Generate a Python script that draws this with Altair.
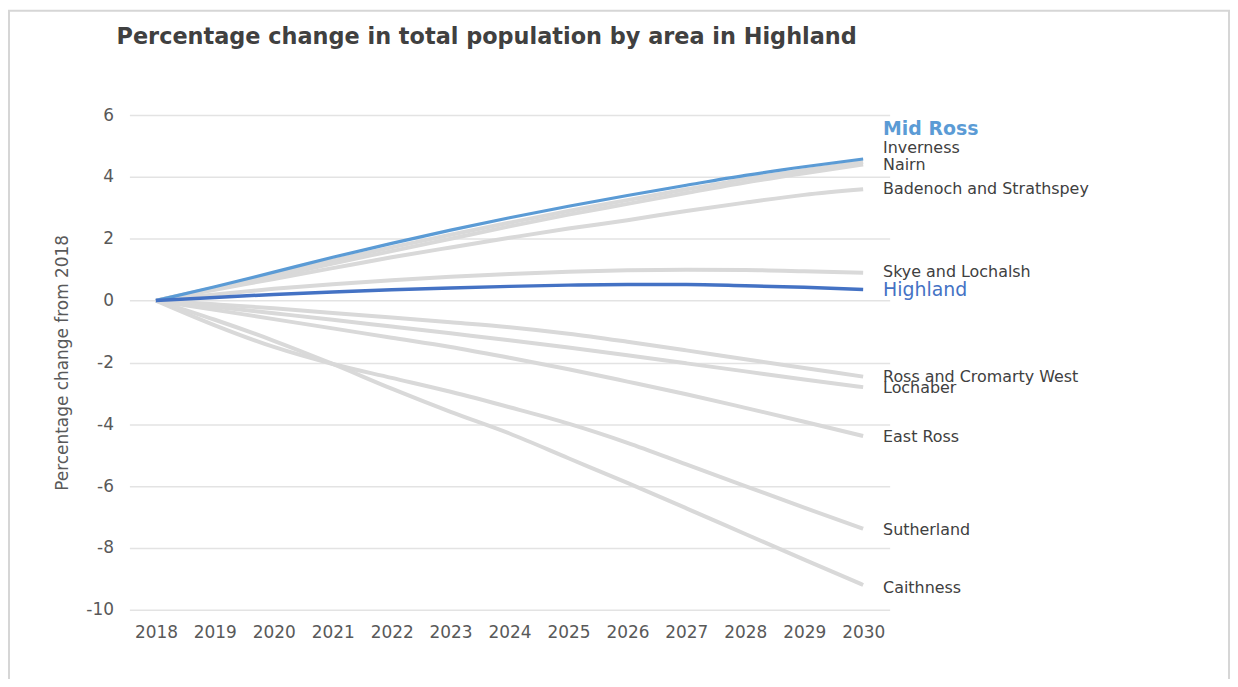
import altair as alt
import pandas as pd

years = list(range(2018, 2031))

mid_ross = [0, 0.45, 0.92, 1.4, 1.85, 2.28, 2.68, 3.05, 3.4, 3.73, 4.05, 4.33, 4.58]
inverness = [0, 0.42, 0.85, 1.3, 1.72, 2.13, 2.52, 2.9, 3.25, 3.6, 3.93, 4.22, 4.48]
nairn = [0, 0.38, 0.78, 1.2, 1.6, 2.0, 2.4, 2.78, 3.13, 3.48, 3.82, 4.12, 4.4]
badenoch = [0, 0.35, 0.7, 1.05, 1.4, 1.72, 2.03, 2.33, 2.6, 2.9, 3.17, 3.42, 3.6]
skye = [0, 0.2, 0.38, 0.53, 0.66, 0.77, 0.86, 0.93, 0.98, 1.0, 0.99, 0.95, 0.9]
highland = [0, 0.1, 0.2, 0.28, 0.35, 0.41, 0.46, 0.5, 0.52, 0.52, 0.48, 0.43, 0.36]
ross_cromarty_west = [0, -0.12, -0.25, -0.4, -0.55, -0.7, -0.86, -1.07, -1.33, -1.61, -1.9, -2.18, -2.46]
lochaber = [0, -0.2, -0.41, -0.62, -0.84, -1.06, -1.28, -1.52, -1.77, -2.03, -2.29, -2.55, -2.8]
east_ross = [0, -0.3, -0.6, -0.9, -1.2, -1.5, -1.85, -2.22, -2.62, -3.03, -3.47, -3.92, -4.38]
sutherland = [0, -0.8, -1.5, -2.05, -2.5, -2.95, -3.45, -3.98, -4.6, -5.3, -6.0, -6.7, -7.38]
caithness = [0, -0.62, -1.3, -2.05, -2.85, -3.6, -4.3, -5.1, -5.9, -6.72, -7.55, -8.38, -9.2]

series = {
    "Mid Ross": mid_ross,
    "Inverness": inverness,
    "Nairn": nairn,
    "Badenoch and Strathspey": badenoch,
    "Skye and Lochalsh": skye,
    "Highland": highland,
    "Ross and Cromarty West": ross_cromarty_west,
    "Lochaber": lochaber,
    "East Ross": east_ross,
    "Sutherland": sutherland,
    "Caithness": caithness,
}

# end-label positions (value units), nudged apart where they overlap
label_areas = ["Mid Ross", "Inverness", "Nairn", "Badenoch and Strathspey",
               "Skye and Lochalsh", "Highland", "Ross and Cromarty West",
               "Lochaber", "East Ross", "Sutherland", "Caithness"]
label_values = [5.56, 4.95, 4.40, 3.62, 0.92, 0.34, -2.46, -2.82, -4.43, -7.43, -9.29]

y_ticks = [-10, -8, -6, -4, -2, 0, 2, 4, 6]

rows = []
for area, vals in series.items():
    for yr, v in zip(years, vals):
        rows.append({"area": area, "year": yr, "value": v})
df = pd.DataFrame(rows)
labels = pd.DataFrame({"area": label_areas, "value": label_values, "year": [years[-1]] * len(label_areas)})

FONT = "DejaVu Sans"
GREY_LINE = "#d9d9d9"
MID_BLUE = "#5b9bd5"
HL_BLUE = "#4472c4"

x_enc = alt.X("year:O", scale=alt.Scale(type="point", padding=0.45),
              axis=alt.Axis(labelAngle=0, title=None, ticks=False, domain=False,
                            labelFont=FONT, labelFontSize=17, labelColor="#595959",
                            labelPadding=15, grid=False))
y_enc = alt.Y("value:Q", scale=alt.Scale(domain=[-10, 6], nice=False),
              axis=alt.Axis(values=y_ticks, title="Percentage change from 2018",
                            labelExpr="'' + datum.value",
                            titleFont=FONT, titleFontSize=17, titleFontWeight="normal",
                            titleColor="#595959", titlePadding=14,
                            labelFont=FONT, labelFontSize=17, labelColor="#595959",
                            labelPadding=16, ticks=False, domain=False,
                            grid=True, gridColor="#e3e3e3", gridWidth=1.5))

base = alt.Chart(df)

grey = base.transform_filter(
    "datum.area != 'Mid Ross' && datum.area != 'Highland'"
).mark_line(color=GREY_LINE, strokeWidth=4, interpolate="monotone").encode(
    x=x_enc, y=y_enc, detail="area:N"
)
mid = base.transform_filter("datum.area == 'Mid Ross'").mark_line(
    color=MID_BLUE, strokeWidth=3.2, interpolate="monotone").encode(x=x_enc, y=y_enc)
hl = base.transform_filter("datum.area == 'Highland'").mark_line(
    color=HL_BLUE, strokeWidth=3.5, interpolate="monotone").encode(x=x_enc, y=y_enc)

lab = alt.Chart(labels)
lab_grey = lab.transform_filter(
    "datum.area != 'Mid Ross' && datum.area != 'Highland'"
).mark_text(align="left", baseline="middle", dx=20, font=FONT, fontSize=16,
            color="#404040").encode(x=x_enc, y=y_enc, text="area:N")
lab_mid = lab.transform_filter("datum.area == 'Mid Ross'").mark_text(
    align="left", baseline="middle", dx=20, font=FONT, fontSize=19, fontWeight="bold",
    color=MID_BLUE).encode(x=x_enc, y=y_enc, text="area:N")
lab_hl = lab.transform_filter("datum.area == 'Highland'").mark_text(
    align="left", baseline="middle", dx=20, font=FONT, fontSize=19,
    color=HL_BLUE).encode(x=x_enc, y=y_enc, text="area:N")

frame = alt.Chart(pd.DataFrame({"k": [0]})).mark_rect(
    fillOpacity=0, stroke="#d6d6d6", strokeWidth=2, clip=False
).encode(x=alt.value(-121), x2=alt.value(1105), y=alt.value(-105), y2=alt.value(600))

chart = alt.layer(frame, grey, mid, hl, lab_grey, lab_mid, lab_hl).properties(
    width=764, height=497,
    autosize=alt.AutoSizeParams(type="none"),
    padding={"left": 122, "top": 106, "right": 342, "bottom": 68},
    title=alt.TitleParams(
        "Percentage change in total population by area in Highland",
        font=FONT, fontSize=22.5, fontWeight="bold", color="#404040",
        anchor="middle", dx=-23, offset=-39),
).configure(background="white").configure_view(strokeWidth=0, stroke="transparent")

chart.save("out.html", embed_options={"renderer": "svg", "actions": False})
